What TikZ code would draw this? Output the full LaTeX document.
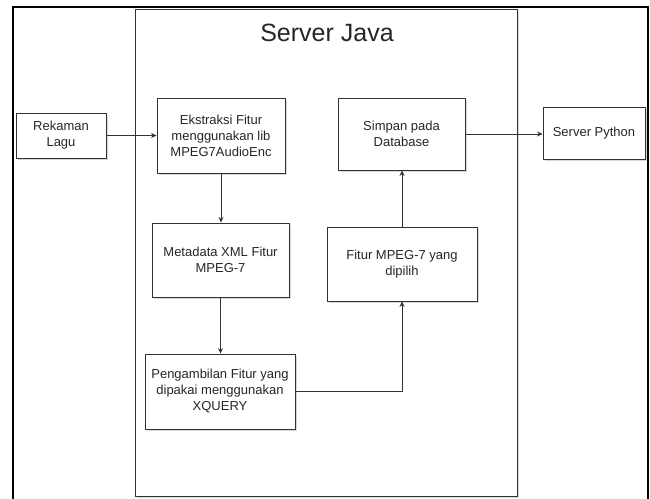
\documentclass[tikz,border=0pt]{standalone}
\usepackage{fontspec}
\setmainfont{Liberation Sans}
\usetikzlibrary{arrows.meta}
\definecolor{linec}{HTML}{333333}
\definecolor{shad}{HTML}{D8D8D8}
\tikzset{
  box/.style={draw=linec, line width=0.9pt, fill=white, text=black!85,
    align=center, inner sep=2pt, font=\fontsize{13}{16}\selectfont},
  conn/.style={draw=linec, line width=0.8pt, -{Stealth[length=5.5pt,width=5pt]}},
}
\newcommand{\shadowbox}[5]{%
  \fill[shad] ({#2-#4/2+2},{#3-#5/2+2}) rectangle ({#2+#4/2+2},{#3+#5/2+2});
  \node[box, minimum width=#4pt, minimum height=#5pt] (#1) at (#2,#3)}
\begin{document}
\begin{tikzpicture}[x=1pt,y=-1pt]
\useasboundingbox (0,0) rectangle (650,498);
% outer frame
\draw[line width=2.2pt, black] (13,499) -- (13,7) -- (648,7) -- (648,499);
% container
\fill[shad] (137,11) rectangle (519,498);
\draw[draw=linec, line width=0.9pt, fill=white] (135,9) rectangle (517,496);
\node[text=black!85, font=\fontsize{25}{30}\selectfont] (title) at (327,33) {Server Java};
% boxes
\shadowbox{rek}{61}{135.5}{90}{45}{Rekaman\\Lagu};
\shadowbox{ek}{221}{135.5}{128}{75}{Ekstraksi Fitur\\menggunakan lib\\MPEG7AudioEnc};
\shadowbox{meta}{220.5}{260}{137}{74}{Metadata XML Fitur\\MPEG-7};
\shadowbox{peng}{220}{391.5}{150}{75}{Pengambilan Fitur yang\\dipakai menggunakan\\XQUERY};
\shadowbox{fit}{402}{264}{150}{74}{Fitur MPEG-7 yang\\dipilih};
\shadowbox{sim}{401.5}{134}{127}{72}{Simpan pada\\Database};
\shadowbox{py}{594}{133}{102}{52}{Server Python};
% connectors
\draw[conn] (rek.east) -- (ek.west);
\draw[conn] (ek.south) -- (ek.south |- meta.north);
\draw[conn] (meta.south) -- (meta.south |- peng.north);
\draw[conn] (peng.east) -| (fit.south);
\draw[conn] (fit.north) -- (fit.north |- sim.south);
\draw[conn] (sim.east) -- (sim.east -| py.west);
\end{tikzpicture}
\end{document}
